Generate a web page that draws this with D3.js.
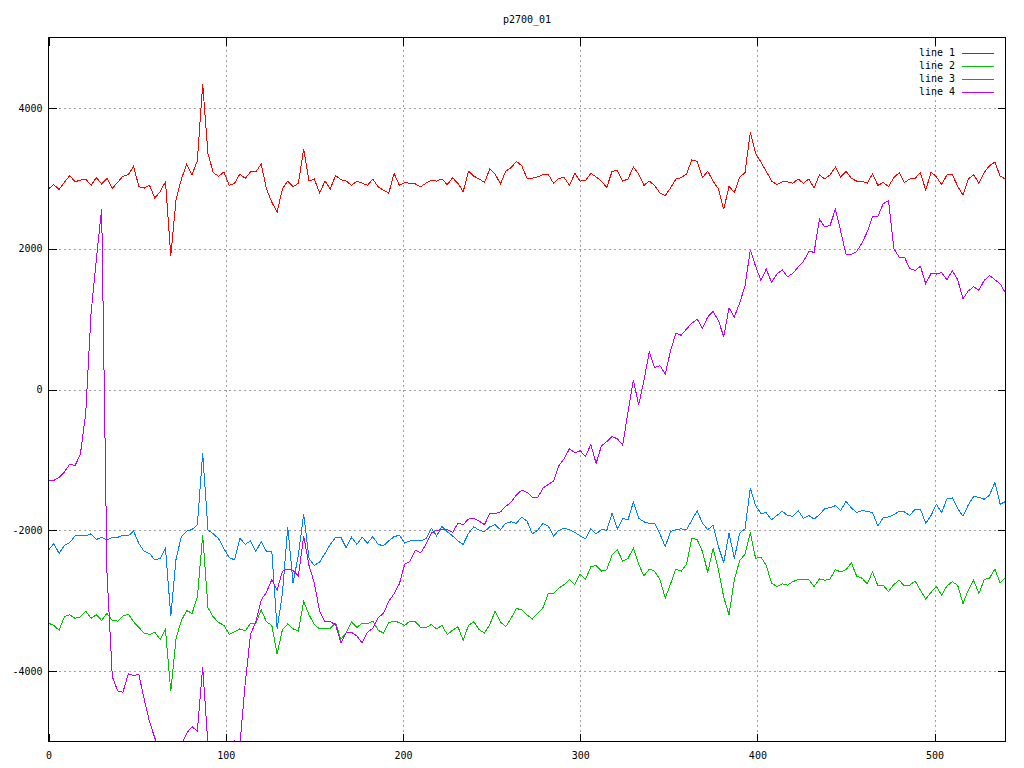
<!DOCTYPE html>
<html>
<head>
<meta charset="utf-8">
<script src="https://cdn.jsdelivr.net/npm/d3@7"></script>
<style>
  body { margin: 0; background: #ffffff; }
  svg { display: block; }
  text { font-family: "DejaVu Sans Mono", "Liberation Mono", monospace; font-size: 10px; fill: #000; }
</style>
</head>
<body>
<svg id="chart" width="1024" height="768"></svg>
<script>
// ---------------- data ----------------
const chartTitle = "p2700_01";
const seriesNames = ["line 1", "line 2", "line 3", "line 4"];
const xStart = 0, xEnd = 540, xStep = 3;          // sample positions along x
const xValues = d3.range(xStart, xEnd + 1, xStep);
const xTicks = [0, 100, 200, 300, 400, 500];
const yTicks = [-4000, -2000, 0, 2000, 4000];
const xDomain = [0, 540];
const yDomain = [-5000, 5000];

const line1 = [
  2851, 2910, 2840, 2945, 3040, 2950, 2975, 2990, 2900, 3010,
  2920, 3000, 2860, 2940, 3030, 3050, 3170, 2880, 2860, 2900,
  2720, 2810, 2950, 1900, 2700, 2990, 3200, 3050, 3250, 4340,
  3350, 3080, 3030, 3090, 2900, 2930, 3060, 3000, 3090, 3090,
  3200, 2850, 2660, 2520, 2850, 2960, 2880, 2930, 3420, 2960,
  2990, 2790, 2960, 2851, 3040, 2980, 2960, 2900, 2960, 2930,
  2900, 2990, 2880, 2830, 2790, 3070, 2900, 2940, 2930, 2920,
  2880, 2930, 2970, 2960, 2990, 2910, 3007, 2930, 2810, 3100,
  3030, 2990, 2940, 3130, 3060, 2920, 3100, 3150, 3240, 3180,
  3000, 3000, 3020, 3050, 3054, 2930, 3000, 3010, 2900, 3070,
  2960, 2970, 3070, 3020, 2960, 2870, 3100, 3110, 2960, 2990,
  3160, 3060, 2900, 2960, 2900, 2790, 2756, 2860, 2990, 3010,
  3060, 3262, 3240, 3010, 3100, 2960, 2851, 2560, 2884, 2800,
  3016, 3080, 3650, 3350, 3230, 3100, 2960, 2912, 2950, 2950,
  2930, 2990, 2930, 2990, 2860, 3050, 2990, 3050, 3158, 3020,
  3100, 3000, 2960, 2960, 2930, 3064, 2900, 2940, 2884, 3010,
  3080, 2940, 2990, 3000, 3080, 2830, 3090, 3020, 2910, 3050,
  3050, 2890, 2760, 2990, 3050, 2930, 3080, 3180, 3230, 3030,
  2990
];
const line2 = [
  -3319, -3350, -3420, -3225, -3200, -3250, -3230, -3150, -3250, -3200,
  -3280, -3180, -3280, -3290, -3220, -3190, -3300, -3380, -3460, -3480,
  -3450, -3550, -3410, -4288, -3530, -3280, -3140, -3180, -2950, -2070,
  -3100, -3230, -3310, -3350, -3480, -3440, -3400, -3430, -3320, -3320,
  -3130, -3300, -3350, -3760, -3410, -3330, -3400, -3430, -3012, -3200,
  -3340, -3400, -3400, -3390, -3320, -3550, -3450, -3300, -3380, -3320,
  -3330, -3290, -3420, -3460, -3310, -3290, -3310, -3350, -3290, -3300,
  -3380, -3380, -3340, -3400, -3350, -3480, -3420, -3370, -3560, -3350,
  -3300, -3410, -3460, -3340, -3150, -3300, -3370, -3250, -3110, -3130,
  -3200, -3260, -3180, -3100, -2900, -2900, -2820, -2770, -2700, -2770,
  -2620, -2700, -2520, -2500, -2580, -2560, -2350, -2280, -2440, -2400,
  -2255, -2480, -2650, -2550, -2580, -2700, -2964, -2760, -2550, -2580,
  -2480, -2113, -2130, -2300, -2600, -2260, -2560, -2950, -3200, -2700,
  -2430, -2340, -2030, -2400, -2380, -2500, -2750, -2800, -2760, -2780,
  -2730, -2700, -2700, -2700, -2800, -2690, -2710, -2690, -2560, -2590,
  -2560, -2459, -2650, -2680, -2760, -2590, -2790, -2780, -2870, -2770,
  -2710, -2790, -2780, -2720, -2850, -2980, -2880, -2800, -2920, -2790,
  -2730, -2780, -3040, -2850, -2710, -2900, -2700, -2680, -2550, -2750,
  -2670
];
const line3 = [
  -2280, -2190, -2330, -2215, -2175, -2080, -2070, -2080, -2050, -2130,
  -2100, -2140, -2100, -2100, -2070, -2080, -2010, -2190, -2300, -2330,
  -2420, -2400, -2250, -3220, -2400, -2090, -2010, -1990, -1920, -908,
  -1995, -2050, -2120, -2260, -2390, -2420, -2110, -2200, -2150, -2300,
  -2160, -2300, -2300, -3400, -2900, -1950, -2750, -2350, -1770, -2400,
  -2500, -2450, -2330, -2200, -2100, -2100, -2250, -2100, -2200, -2100,
  -2180, -2090, -2200, -2220, -2150, -2090, -2070, -2180, -2150, -2150,
  -2150, -2120, -1970, -2080, -1948, -2020, -2080, -2150, -2200, -2043,
  -1950, -2000, -2020, -1950, -1920, -1990, -1900, -1880, -1900, -1815,
  -1870, -2050, -2000, -1900, -1940, -2080, -2000, -1970, -1990, -2030,
  -2080, -2120, -1980, -2050, -1990, -2000, -1760, -1980, -1830, -1850,
  -1600, -1830, -1880, -1900, -1900, -2050, -2230, -2020, -1990, -1980,
  -1990, -1860, -1720, -1900, -1990, -1930, -2232, -2460, -2043, -2400,
  -2040, -1980, -1400, -1650, -1760, -1750, -1850, -1790, -1730, -1790,
  -1800, -1720, -1830, -1790, -1840, -1780, -1690, -1680, -1650, -1720,
  -1590, -1680, -1750, -1720, -1730, -1750, -1940, -1820, -1810, -1780,
  -1730, -1740, -1790, -1700, -1700, -1900, -1790, -1630, -1750, -1550,
  -1540, -1690, -1800, -1640, -1520, -1530, -1560, -1500, -1320, -1630,
  -1590
];
const line4 = [
  -1290, -1290, -1250, -1170, -1060, -1080, -920, -340, 1080, 1850,
  2567, -2600, -4080, -4280, -4300, -4040, -4060, -4050, -4400, -4720,
  -4950, -5200, -5500, -5600, -5300, -5050, -4880, -4790, -4850, -3940,
  -5050, -5500, -5700, -5600, -5300, -4990, -5050, -4170, -3480, -3300,
  -2990, -2880, -2700, -2850, -2580, -2550, -2570, -2650, -2080, -2500,
  -2750, -3150, -3300, -3300, -3340, -3600, -3450, -3450, -3500, -3600,
  -3450, -3390, -3240, -3180, -3010, -2900, -2760, -2480, -2440, -2280,
  -2320, -2200, -2040, -2000, -1990, -1990, -2030, -1900, -1920, -1840,
  -1830, -1870, -1920, -1760, -1760, -1740, -1660, -1600, -1500, -1430,
  -1460, -1530, -1540, -1400, -1350, -1300, -1080, -980, -840, -900,
  -870, -950, -780, -1050, -800, -740, -670, -700, -790, -317,
  140, -222, 132, 534, 310, 340, 220, 550, 800, 770,
  860, 940, 1000, 870, 1030, 1110, 980, 750, 1160, 1030,
  1230, 1470, 1980, 1750, 1550, 1710, 1520, 1640, 1700, 1600,
  1650, 1740, 1820, 1960, 1950, 2420, 2310, 2330, 2560, 2250,
  1920, 1920, 1960, 2080, 2240, 2459, 2460, 2640, 2680, 2000,
  1880, 1880, 1716, 1690, 1750, 1500, 1650, 1640, 1660, 1560,
  1690, 1560, 1290, 1400, 1460, 1410, 1550, 1620, 1560, 1500,
  1370
];
const seriesValues = [line1, line2, line3, line4];

// ---------------- styles / layout ----------------
const colors = ["#ff0000", "#00c000", "#0080ff", "#c000ff"];
const plot = { left: 48.5, right: 1005.5, top: 37.5, bottom: 741.5 };
const tickLen = 8;

const svg = d3.select("#chart");
svg.append("rect").attr("width", 1024).attr("height", 768).attr("fill", "#fff");

const x = d3.scaleLinear().domain(xDomain).range([plot.left, plot.right]);
const y = d3.scaleLinear().domain(yDomain).range([plot.bottom, plot.top]);

// grid
const grid = svg.append("g").attr("stroke", "#a0a0a0").attr("stroke-width", 1)
  .attr("stroke-dasharray", "2,3").attr("shape-rendering", "crispEdges");
grid.selectAll("line.gx").data(xTicks.filter(d => d > xDomain[0] && d < xDomain[1])).join("line")
  .attr("x1", d => Math.round(x(d)) + 0.5).attr("x2", d => Math.round(x(d)) + 0.5)
  .attr("y1", plot.bottom).attr("y2", plot.top);
grid.selectAll("line.gy").data(yTicks).join("line")
  .attr("y1", d => Math.round(y(d)) + 0.5).attr("y2", d => Math.round(y(d)) + 0.5)
  .attr("x1", plot.left).attr("x2", plot.right);

// axes (ticks inward, mirrored)
const fmt = d => String(d);
const axL = svg.append("g").attr("transform", `translate(${plot.left},0)`)
  .call(d3.axisLeft(y).tickValues(yTicks).tickSize(-tickLen).tickPadding(6).tickFormat(fmt));
const axR = svg.append("g").attr("transform", `translate(${plot.right},0)`)
  .call(d3.axisRight(y).tickValues(yTicks).tickSize(-tickLen).tickFormat(""));
const axB = svg.append("g").attr("transform", `translate(0,${plot.bottom})`)
  .call(d3.axisBottom(x).tickValues(xTicks).tickSize(-tickLen).tickPadding(10).tickFormat(fmt));
const axT = svg.append("g").attr("transform", `translate(0,${plot.top})`)
  .call(d3.axisTop(x).tickValues(xTicks).tickSize(-tickLen).tickFormat(""));
[axL, axR, axB, axT].forEach(g => {
  g.select(".domain").remove();
  g.selectAll(".tick line").attr("stroke", "#000").attr("shape-rendering", "crispEdges");
  g.selectAll("text").attr("font-family", null).attr("font-size", null).attr("fill", "#000");
});

// clip
svg.append("clipPath").attr("id", "clip").append("rect")
  .attr("x", plot.left).attr("y", plot.top)
  .attr("width", plot.right - plot.left).attr("height", plot.bottom - plot.top);

// series (aliased like the original bitmap renderer)
const lineGen = d3.line().x((d, i) => x(xValues[i])).y(d => y(d));
const lines = svg.append("g").attr("clip-path", "url(#clip)");
seriesValues.forEach((vals, k) => {
  lines.append("path").datum(vals)
    .attr("fill", "none").attr("stroke", colors[k]).attr("stroke-width", 1)
    .attr("shape-rendering", "crispEdges")
    .attr("d", lineGen);
});

// border
svg.append("rect").attr("x", plot.left).attr("y", plot.top)
  .attr("width", plot.right - plot.left).attr("height", plot.bottom - plot.top)
  .attr("fill", "none").attr("stroke", "#000").attr("stroke-width", 1)
  .attr("shape-rendering", "crispEdges");

// title
svg.append("text").attr("x", (plot.left + plot.right) / 2).attr("y", 19.5)
  .attr("text-anchor", "middle").attr("dy", "0.35em").text(chartTitle);

// legend
const leg = svg.append("g");
seriesNames.forEach((name, k) => {
  const yy = 52.5 + k * 13;
  leg.append("text").attr("x", 955).attr("y", yy).attr("dy", "0.35em")
    .attr("text-anchor", "end").text(name);
  leg.append("line").attr("x1", 962).attr("x2", 994)
    .attr("y1", Math.round(yy) + 0.5).attr("y2", Math.round(yy) + 0.5)
    .attr("stroke", colors[k]).attr("stroke-width", 1).attr("shape-rendering", "crispEdges");
});
</script>
</body>
</html>
